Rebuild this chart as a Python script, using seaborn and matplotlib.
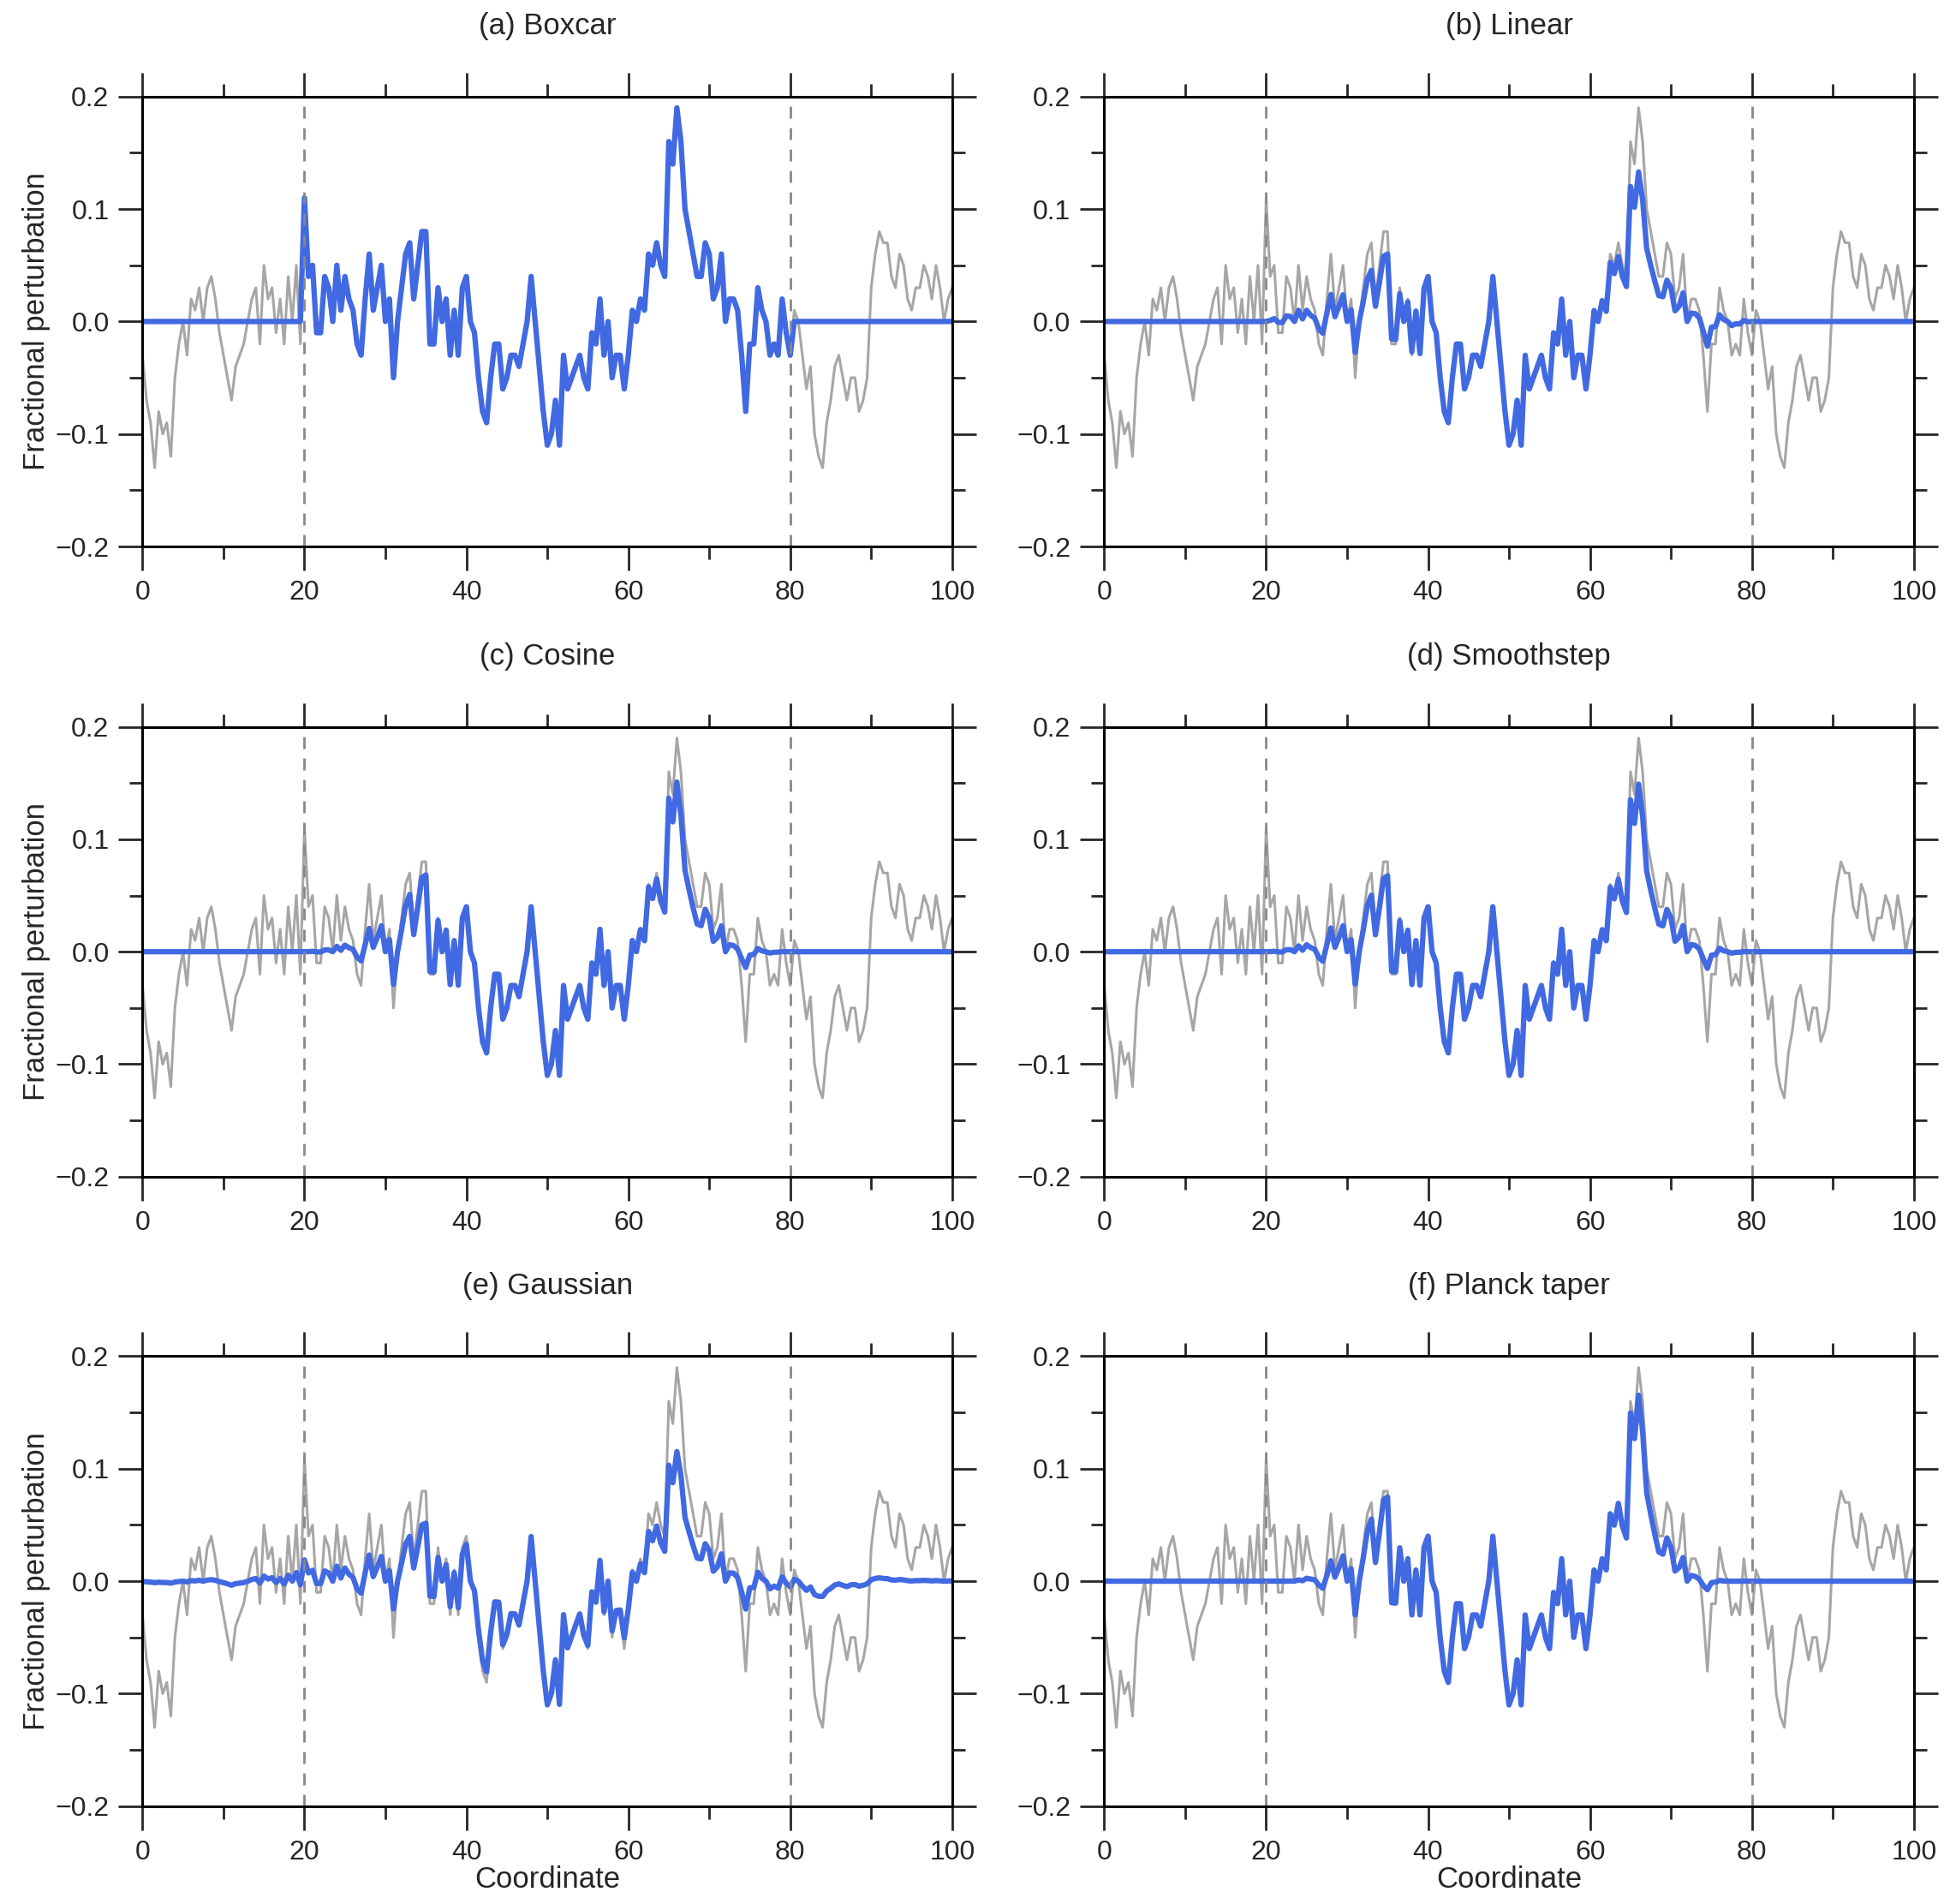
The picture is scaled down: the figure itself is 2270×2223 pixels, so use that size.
import numpy as np
import matplotlib
matplotlib.use("Agg")
import matplotlib.pyplot as plt
import seaborn as sns

sns.set_style("white")
plt.rcParams['font.family'] = ['Liberation Sans', 'DejaVu Sans']

perturb = [
 -0.03,-0.07,-0.09,-0.13,-0.08,-0.10,-0.09,-0.12,-0.05,-0.02, 0.00,-0.03, 0.02, 0.01, 0.03, 0.00, 0.03, 0.04,
  0.02,-0.01,-0.03,-0.05,-0.07,-0.04,-0.03,-0.02, 0.00, 0.02, 0.03,-0.02, 0.05, 0.02, 0.03,-0.01, 0.02,-0.02,
  0.04, 0.00, 0.05,-0.02, 0.11, 0.04, 0.05,-0.01,-0.01, 0.04, 0.03, 0.00, 0.05, 0.01, 0.04, 0.02, 0.01,-0.02,
 -0.03, 0.02, 0.06, 0.01, 0.03, 0.05, 0.00, 0.02,-0.05, 0.00, 0.03, 0.06, 0.07, 0.02, 0.05, 0.08, 0.08,-0.02,
 -0.02, 0.03, 0.00, 0.02,-0.03, 0.01,-0.03, 0.03, 0.04, 0.00,-0.01,-0.05,-0.08,-0.09,-0.05,-0.02,-0.02,-0.06,
 -0.05,-0.03,-0.03,-0.04,-0.02, 0.00, 0.04, 0.00,-0.04,-0.08,-0.11,-0.10,-0.07,-0.11,-0.03,-0.06,-0.05,-0.04,
 -0.03,-0.05,-0.06,-0.01,-0.02, 0.02,-0.03, 0.00,-0.05,-0.03,-0.03,-0.06,-0.03, 0.01, 0.00, 0.02, 0.01, 0.06,
  0.05, 0.07, 0.05, 0.04, 0.16, 0.14, 0.19, 0.16, 0.10, 0.08, 0.06, 0.04, 0.04, 0.07, 0.06, 0.02, 0.03, 0.06,
  0.00, 0.02, 0.02, 0.01,-0.03,-0.08,-0.02,-0.02, 0.03, 0.01, 0.00,-0.03,-0.02,-0.03, 0.02,-0.01,-0.03, 0.01,
  0.00,-0.03,-0.06,-0.04,-0.10,-0.12,-0.13,-0.09,-0.07,-0.04,-0.03,-0.05,-0.07,-0.05,-0.05,-0.08,-0.07,-0.05,
  0.03, 0.06, 0.08, 0.07, 0.07, 0.04, 0.03, 0.06, 0.05, 0.02, 0.01, 0.03, 0.03, 0.05, 0.04, 0.02, 0.05, 0.03,
  0.00, 0.02, 0.03,
]
coord = np.arange(len(perturb)) * 0.5
titles = ["(a) Boxcar", "(b) Linear", "(c) Cosine", "(d) Smoothstep", "(e) Gaussian", "(f) Planck taper"]
win_lo, win_hi, ramp = 20.0, 80.0, 20.0

x = coord
y = np.array(perturb)

def ramp_frac(x):
    up = np.clip((x - win_lo) / ramp, 0, 1)
    dn = np.clip((win_hi - x) / ramp, 0, 1)
    return np.minimum(up, dn)

def taper(kind):
    t = ramp_frac(x)
    inside = (x >= win_lo) & (x <= win_hi)
    if kind == 0:
        return inside.astype(float)
    if kind == 1:
        return t
    if kind == 2:
        return 0.5 - 0.5 * np.cos(np.pi * t)
    if kind == 3:
        return t * t * (3 - 2 * t)
    if kind == 4:
        return np.exp(-(x - 50) ** 2 / (2 * 16.0 ** 2))
    with np.errstate(divide='ignore', over='ignore', invalid='ignore'):
        z = np.where((t > 0) & (t < 1), 1.0 / np.where(t > 0, t, 1) - 1.0 / np.where(t < 1, 1 - t, 1), 0)
        w = np.where(t <= 0, 0, np.where(t >= 1, 1, 1.0 / (np.exp(z) + 1)))
    return w

fig = plt.figure(figsize=(22.7, 22.23), dpi=100)
lefts = [0.0733, 0.568]
bottoms = [0.713, 0.382, 0.0514]
W, H = 0.4165, 0.2363
fs = 23
for i in range(6):
    r, c = divmod(i, 2)
    ax = fig.add_axes([lefts[c], bottoms[r], W, H])
    sns.lineplot(x=x, y=y, ax=ax, color="#a6a6a6", linewidth=2.2)
    sns.lineplot(x=x, y=y * taper(i), ax=ax, color="#4169e1", linewidth=4.5)
    ax.axvline(win_lo, color="#888888", ls=(0, (5, 4)), lw=2)
    ax.axvline(win_hi, color="#888888", ls=(0, (5, 4)), lw=2)
    ax.set_xlim(0, 100); ax.set_ylim(-0.2, 0.2)
    ax.set_xticks([0, 20, 40, 60, 80, 100])
    ax.set_xticks(np.arange(10, 100, 20), minor=True)
    ax.set_yticks([-0.2, -0.1, 0.0, 0.1, 0.2])
    ax.set_yticklabels(["\u22120.2", "\u22120.1", "0.0", "0.1", "0.2"])
    ax.set_yticks([-0.15, -0.05, 0.05, 0.15], minor=True)
    ax.tick_params(which='both', direction='out', top=True, right=True, bottom=True, left=True,
                   labelsize=fs, width=2, pad=8)
    ax.tick_params(which='major', length=20)
    ax.tick_params(which='minor', length=11)
    for s in ax.spines.values():
        s.set_linewidth(2.2); s.set_color('black')
    ax.set_title(titles[i], fontsize=fs + 2, pad=52)
    if c == 0:
        ax.set_ylabel("Fractional perturbation", fontsize=fs + 2, labelpad=4)
    if r == 2:
        ax.set_xlabel("Coordinate", fontsize=fs + 2, labelpad=0)
fig.savefig("out.png", dpi=100)
